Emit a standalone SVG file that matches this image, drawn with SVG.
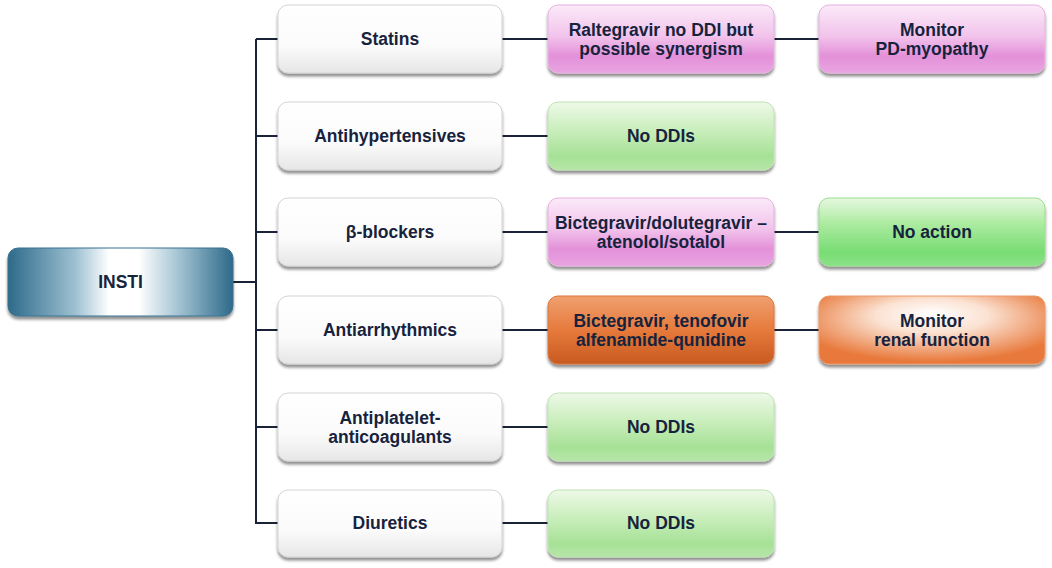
<svg xmlns="http://www.w3.org/2000/svg" width="1052" height="568" viewBox="0 0 1052 568">
<defs>
<linearGradient id="gWhite" x1="0" y1="0" x2="0" y2="1">
<stop offset="0" stop-color="#ffffff"/><stop offset="0.6" stop-color="#fbfbfb"/><stop offset="1" stop-color="#e6e6e6"/>
</linearGradient>
<linearGradient id="gPink" x1="0" y1="0" x2="0" y2="1">
<stop offset="0" stop-color="#fbeaf8"/><stop offset="0.45" stop-color="#f2c4ec"/><stop offset="0.75" stop-color="#e391d9"/><stop offset="1" stop-color="#e9a4e1"/>
</linearGradient>
<linearGradient id="gGreen" x1="0" y1="0" x2="0" y2="1">
<stop offset="0" stop-color="#eef9e8"/><stop offset="0.45" stop-color="#c6edb8"/><stop offset="0.8" stop-color="#a6e196"/><stop offset="1" stop-color="#b6e6a8"/>
</linearGradient>
<linearGradient id="gGreen2" x1="0" y1="0" x2="0" y2="1">
<stop offset="0" stop-color="#e6f8e0"/><stop offset="0.4" stop-color="#a9ea9d"/><stop offset="0.8" stop-color="#78dc74"/><stop offset="1" stop-color="#8ce288"/>
</linearGradient>
<linearGradient id="gOrange" x1="0" y1="0" x2="0" y2="1">
<stop offset="0" stop-color="#f0a070"/><stop offset="0.5" stop-color="#e67a3c"/><stop offset="1" stop-color="#c85a20"/>
</linearGradient>
<radialGradient id="gOrange2" cx="0.5" cy="0.35" r="0.62" fx="0.5" fy="0.25">
<stop offset="0" stop-color="#ffffff"/><stop offset="0.4" stop-color="#fbe2d2"/><stop offset="1" stop-color="#e8783a"/>
</radialGradient>
<linearGradient id="gTeal" x1="0" y1="0" x2="1" y2="0">
<stop offset="0" stop-color="#2d6a8a"/><stop offset="0.3" stop-color="#9ec1d2"/><stop offset="0.45" stop-color="#ffffff"/><stop offset="0.58" stop-color="#ffffff"/><stop offset="0.75" stop-color="#a7c6d5"/><stop offset="1" stop-color="#2d6a8a"/>
</linearGradient>
<filter id="sh" x="-10%" y="-10%" width="120%" height="130%">
<feGaussianBlur in="SourceAlpha" stdDeviation="1.5"/>
<feOffset dx="0" dy="3" result="b"/>
<feComponentTransfer><feFuncA type="linear" slope="0.45"/></feComponentTransfer>
<feMerge><feMergeNode/><feMergeNode in="SourceGraphic"/></feMerge>
</filter>
</defs>
<style>
.box{filter:url(#sh)}
.w{fill:url(#gWhite);stroke:#d4d4d4;stroke-width:1}
.p{fill:url(#gPink);stroke:#e6b2de;stroke-width:1}
.g{fill:url(#gGreen);stroke:#bfe3b3;stroke-width:1}
.g2{fill:url(#gGreen2);stroke:#9ade90;stroke-width:1}
.o{fill:url(#gOrange);stroke:#d9763d;stroke-width:1}
.o2{fill:url(#gOrange2);stroke:#ec9a68;stroke-width:1}
.t{fill:url(#gTeal);stroke:#3a7090;stroke-width:1}
text{font-family:"Liberation Sans",Arial,sans-serif;font-weight:bold;font-size:17.5px;fill:#17233d;text-anchor:middle}
.c{stroke:#1a2238;stroke-width:2;fill:none}
</style>
<rect width="1052" height="568" fill="#ffffff"/>
<g id="connectors">
<path class="c" d="M233 282H256M256 39V524M256 39H278M256 136H278M256 232H278M256 330H278M256 427H278M256 523H278"/>
<path class="c" d="M502 39H548M502 136H548M502 232H548M502 330H548M502 427H548M502 523H548"/>
<path class="c" d="M774 39H819M774 232H819M774 330H819"/>
</g>
<g id="insti"><rect class="box t" x="8" y="248" width="225" height="68" rx="10"/><text x="120.5" y="288">INSTI</text></g>
<g id="statins"><rect class="box w" x="278" y="5" width="224" height="68" rx="10"/><text x="390" y="45">Statins</text></g>
<g id="antihypertensives"><rect class="box w" x="278" y="102" width="224" height="68" rx="10"/><text x="390" y="142">Antihypertensives</text></g>
<g id="betablockers"><rect class="box w" x="278" y="198" width="224" height="68" rx="10"/><text x="390" y="238">β-blockers</text></g>
<g id="antiarrhythmics"><rect class="box w" x="278" y="296" width="224" height="68" rx="10"/><text x="390" y="336">Antiarrhythmics</text></g>
<g id="antiplatelet"><rect class="box w" x="278" y="393" width="224" height="68" rx="10"/><text x="390" y="424">Antiplatelet-</text><text x="390" y="443">anticoagulants</text></g>
<g id="diuretics"><rect class="box w" x="278" y="490" width="224" height="67" rx="10"/><text x="390" y="529">Diuretics</text></g>
<g id="raltegravir"><rect class="box p" x="548" y="5" width="226" height="68" rx="10"/><text x="661" y="36">Raltegravir no DDI but</text><text x="661" y="55">possible synergism</text></g>
<g id="noddi1"><rect class="box g" x="548" y="102" width="226" height="68" rx="10"/><text x="661" y="142">No DDIs</text></g>
<g id="bictegravir1"><rect class="box p" x="548" y="198" width="226" height="68" rx="10"/><text x="661" y="229">Bictegravir/dolutegravir –</text><text x="661" y="248">atenolol/sotalol</text></g>
<g id="bictegravir2"><rect class="box o" x="548" y="296" width="226" height="68" rx="10"/><text x="661" y="327">Bictegravir, tenofovir</text><text x="661" y="346">alfenamide-qunidine</text></g>
<g id="noddi2"><rect class="box g" x="548" y="393" width="226" height="68" rx="10"/><text x="661" y="433">No DDIs</text></g>
<g id="noddi3"><rect class="box g" x="548" y="490" width="226" height="67" rx="10"/><text x="661" y="529">No DDIs</text></g>
<g id="monitorpd"><rect class="box p" x="819" y="5" width="226" height="68" rx="10"/><text x="932" y="36">Monitor</text><text x="932" y="55">PD-myopathy</text></g>
<g id="noaction"><rect class="box g2" x="819" y="198" width="226" height="68" rx="10"/><text x="932" y="238">No action</text></g>
<g id="monitorrenal"><rect class="box o2" x="819" y="296" width="226" height="68" rx="10"/><text x="932" y="327">Monitor</text><text x="932" y="346">renal function</text></g>
</svg>
